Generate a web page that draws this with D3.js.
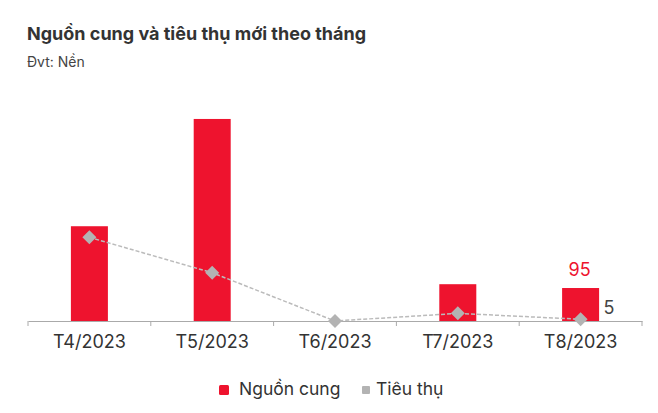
<!DOCTYPE html>
<html><head><meta charset="utf-8">
<script src="https://cdn.jsdelivr.net/npm/d3@7"></script>
<style>body{margin:0;background:#fff}svg{display:block}text{font-family:Inter,"Noto Sans",sans-serif}</style>
</head><body>
<script>
const categories = ["T4/2023","T5/2023","T6/2023","T7/2023","T8/2023"];
const supply = [273, 582, 0, 106, 95];
const consumption = [241, 139, 0, 22, 5];
const seriesNames = ["Nguồn cung","Tiêu thụ"];

const W=658,H=413;
const ARIAL="'Liberation Sans',Arial,sans-serif";
const svg=d3.select("body").append("svg").attr("width",W).attr("height",H);
svg.append("text").attr("x",27).attr("y",40).attr("font-size",18).attr("font-weight",700).attr("fill","#333").text("Nguồn cung và tiêu thụ mới theo tháng");
svg.append("text").attr("x",27).attr("y",67).attr("font-size",14).attr("fill","#444").text("Đvt: Nền");

const xb=d3.scaleBand().domain(categories).range([28,642]);
const y=d3.scaleLinear().domain([0,700]).range([321,78]);

svg.selectAll(".bar").data(supply).join("rect")
  .attr("x",(d,i)=>xb(categories[i])+xb.bandwidth()/2-18.5).attr("width",37)
  .attr("y",d=>y(d)).attr("height",d=>y(0)-y(d)).attr("fill","#ee132e");

const ax=svg.append("g").attr("transform","translate(0,321)").call(d3.axisBottom(xb).tickSize(0).tickPadding(16));
ax.select(".domain").attr("stroke","#aaa").attr("stroke-width",1.2);
ax.selectAll("text").attr("font-size",18).attr("fill","#333").attr("font-family",ARIAL).attr("dy","0.71em").attr("y",14);
const bounds=[...categories.map(c=>xb(c)),642];
svg.selectAll(".tk").data(bounds).join("line").attr("x1",d=>d).attr("x2",d=>d).attr("y1",321).attr("y2",326).attr("stroke","#aaa").attr("stroke-width",1);

const cx=i=>xb(categories[i])+xb.bandwidth()/2;
svg.append("path").datum(consumption).attr("fill","none").attr("stroke","#bbb").attr("stroke-width",1.5).attr("stroke-dasharray","4,2")
  .attr("d",d3.line().x((d,i)=>cx(i)).y(d=>y(d)));
svg.selectAll(".mk").data(consumption).join("path")
  .attr("d",d3.symbol(d3.symbolSquare,98))
  .attr("transform",(d,i)=>`translate(${cx(i)},${y(d)}) rotate(45)`).attr("fill","#b3b3b3");

const last=categories.length-1;
svg.append("text").attr("x",cx(last)-1).attr("y",276).attr("text-anchor","middle").attr("font-size",18).attr("font-family",ARIAL).attr("fill","#ee132e").text(supply[last]);
svg.append("text").attr("x",cx(last)+23).attr("y",314).attr("font-size",18).attr("font-family",ARIAL).attr("fill","#444").text(consumption[last]);

const lg=svg.append("g");
lg.append("rect").attr("x",219).attr("y",385).attr("width",10).attr("height",10).attr("rx",1.5).attr("fill","#ee132e");
lg.append("text").attr("x",239).attr("y",395).attr("font-size",17.5).attr("fill","#333").text(seriesNames[0]);
lg.append("rect").attr("x",362).attr("y",386).attr("width",8).attr("height",8).attr("rx",1).attr("fill","#b3b3b3");
lg.append("text").attr("x",376).attr("y",395).attr("font-size",17.5).attr("fill","#333").text(seriesNames[1]);
</script>
</body></html>
